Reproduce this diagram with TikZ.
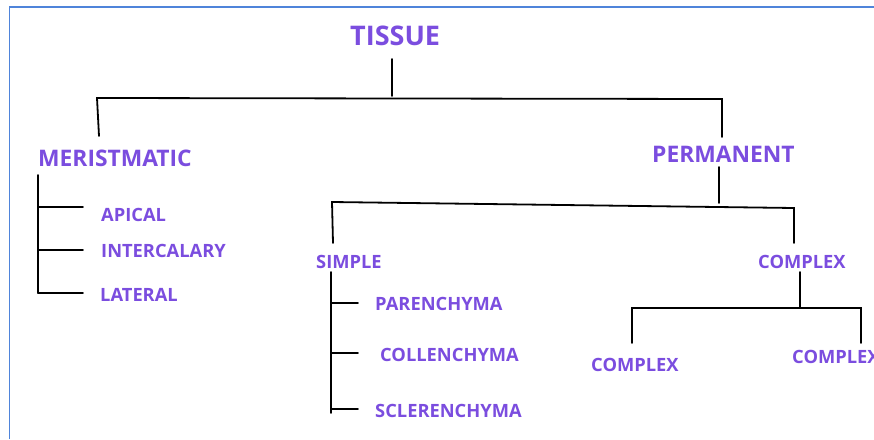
\documentclass[tikz,border=0pt]{standalone}
\usepackage{fontspec}
\setmainfont{Open Sans}
\definecolor{lbl}{HTML}{7B4DDF}
\definecolor{frame}{HTML}{4F84DA}
\tikzset{
  lab/.style={anchor=base west, inner sep=0pt, text=lbl, font=\bfseries\fontsize{18.3}{21}\selectfont},
  big/.style={lab, font=\bfseries\fontsize{22.8}{26}\selectfont},
  huge/.style={lab, font=\bfseries\fontsize{27}{30}\selectfont},
  wire/.style={draw=black, line width=1.8pt, line cap=round}
}
\begin{document}
\begin{tikzpicture}[x=1pt,y=-1pt]
\path[use as bounding box, fill=white] (0,0) rectangle (874,439);
\draw[draw=frame, line width=1.8pt] (9.5,439) -- (9.5,7.3) -- (874,7.3);
% labels
\node[huge] (tissue) at (350,45) {TISSUE};
\node[big] (merist) at (38,166) {MERISTMATIC};
\node[big] (perm) at (652,162) {PERMANENT};
\node[lab] (apical) at (101,221) {APICAL};
\node[lab] (inter) at (101,257) {INTERCALARY};
\node[lab] (lateral) at (100,301) {LATERAL};
\node[lab] (simple) at (316,268) {SIMPLE};
\node[lab] (complex) at (758,268) {COMPLEX};
\node[lab] (paren) at (375,310) {PARENCHYMA};
\node[lab] (collen) at (380,361) {COLLENCHYMA};
\node[lab] (scler) at (375,417) {SCLERENCHYMA};
\node[lab] (cx1) at (591,371) {COMPLEX};
\node[lab] (cx2) at (792,363) {COMPLEX};
% junction coordinates
\coordinate (t0) at (392,59);
\coordinate (t1) at (392,96);
\coordinate (hL) at (97,98);
\coordinate (hR) at (722,99);
\coordinate (mTop) at (99,136);
\coordinate (pTop) at (722,137);
\coordinate (p0) at (719,167);
\coordinate (p1) at (719,203);
\coordinate (sL) at (332,202);
\coordinate (sR) at (794,208);
\coordinate (sD) at (333,243);
\coordinate (cD) at (794,243);
\coordinate (m0) at (38,175);
\coordinate (m1) at (38,293);
\coordinate (s0) at (331,272);
\coordinate (s1) at (331,413);
\coordinate (c0) at (800,272);
\coordinate (c1) at (800,308);
\coordinate (kL) at (632,308);
\coordinate (kR) at (861,308);
\coordinate (kLd) at (632,343);
\coordinate (kRd) at (861,343);
% connectors
\draw[wire] (t0) -- (t1);
\draw[wire] (mTop) -- (hL) -- (hR) -- (pTop);
\draw[wire] (p0) -- (p1);
\draw[wire] (sD) -- (sL) -- (sR) -- (cD);
\draw[wire] (m0) -- (m1);
\draw[wire] (38,207) -- (83,207);
\draw[wire] (38,250) -- (83,250);
\draw[wire] (38,293) -- (83,293);
\draw[wire] (s0) -- (s1);
\draw[wire] (331,303) -- (358,303);
\draw[wire] (331,353) -- (358,353);
\draw[wire] (331,409) -- (358,409);
\draw[wire] (c0) -- (c1);
\draw[wire] (kLd) -- (kL) -- (kR) -- (kRd);
\end{tikzpicture}
\end{document}
